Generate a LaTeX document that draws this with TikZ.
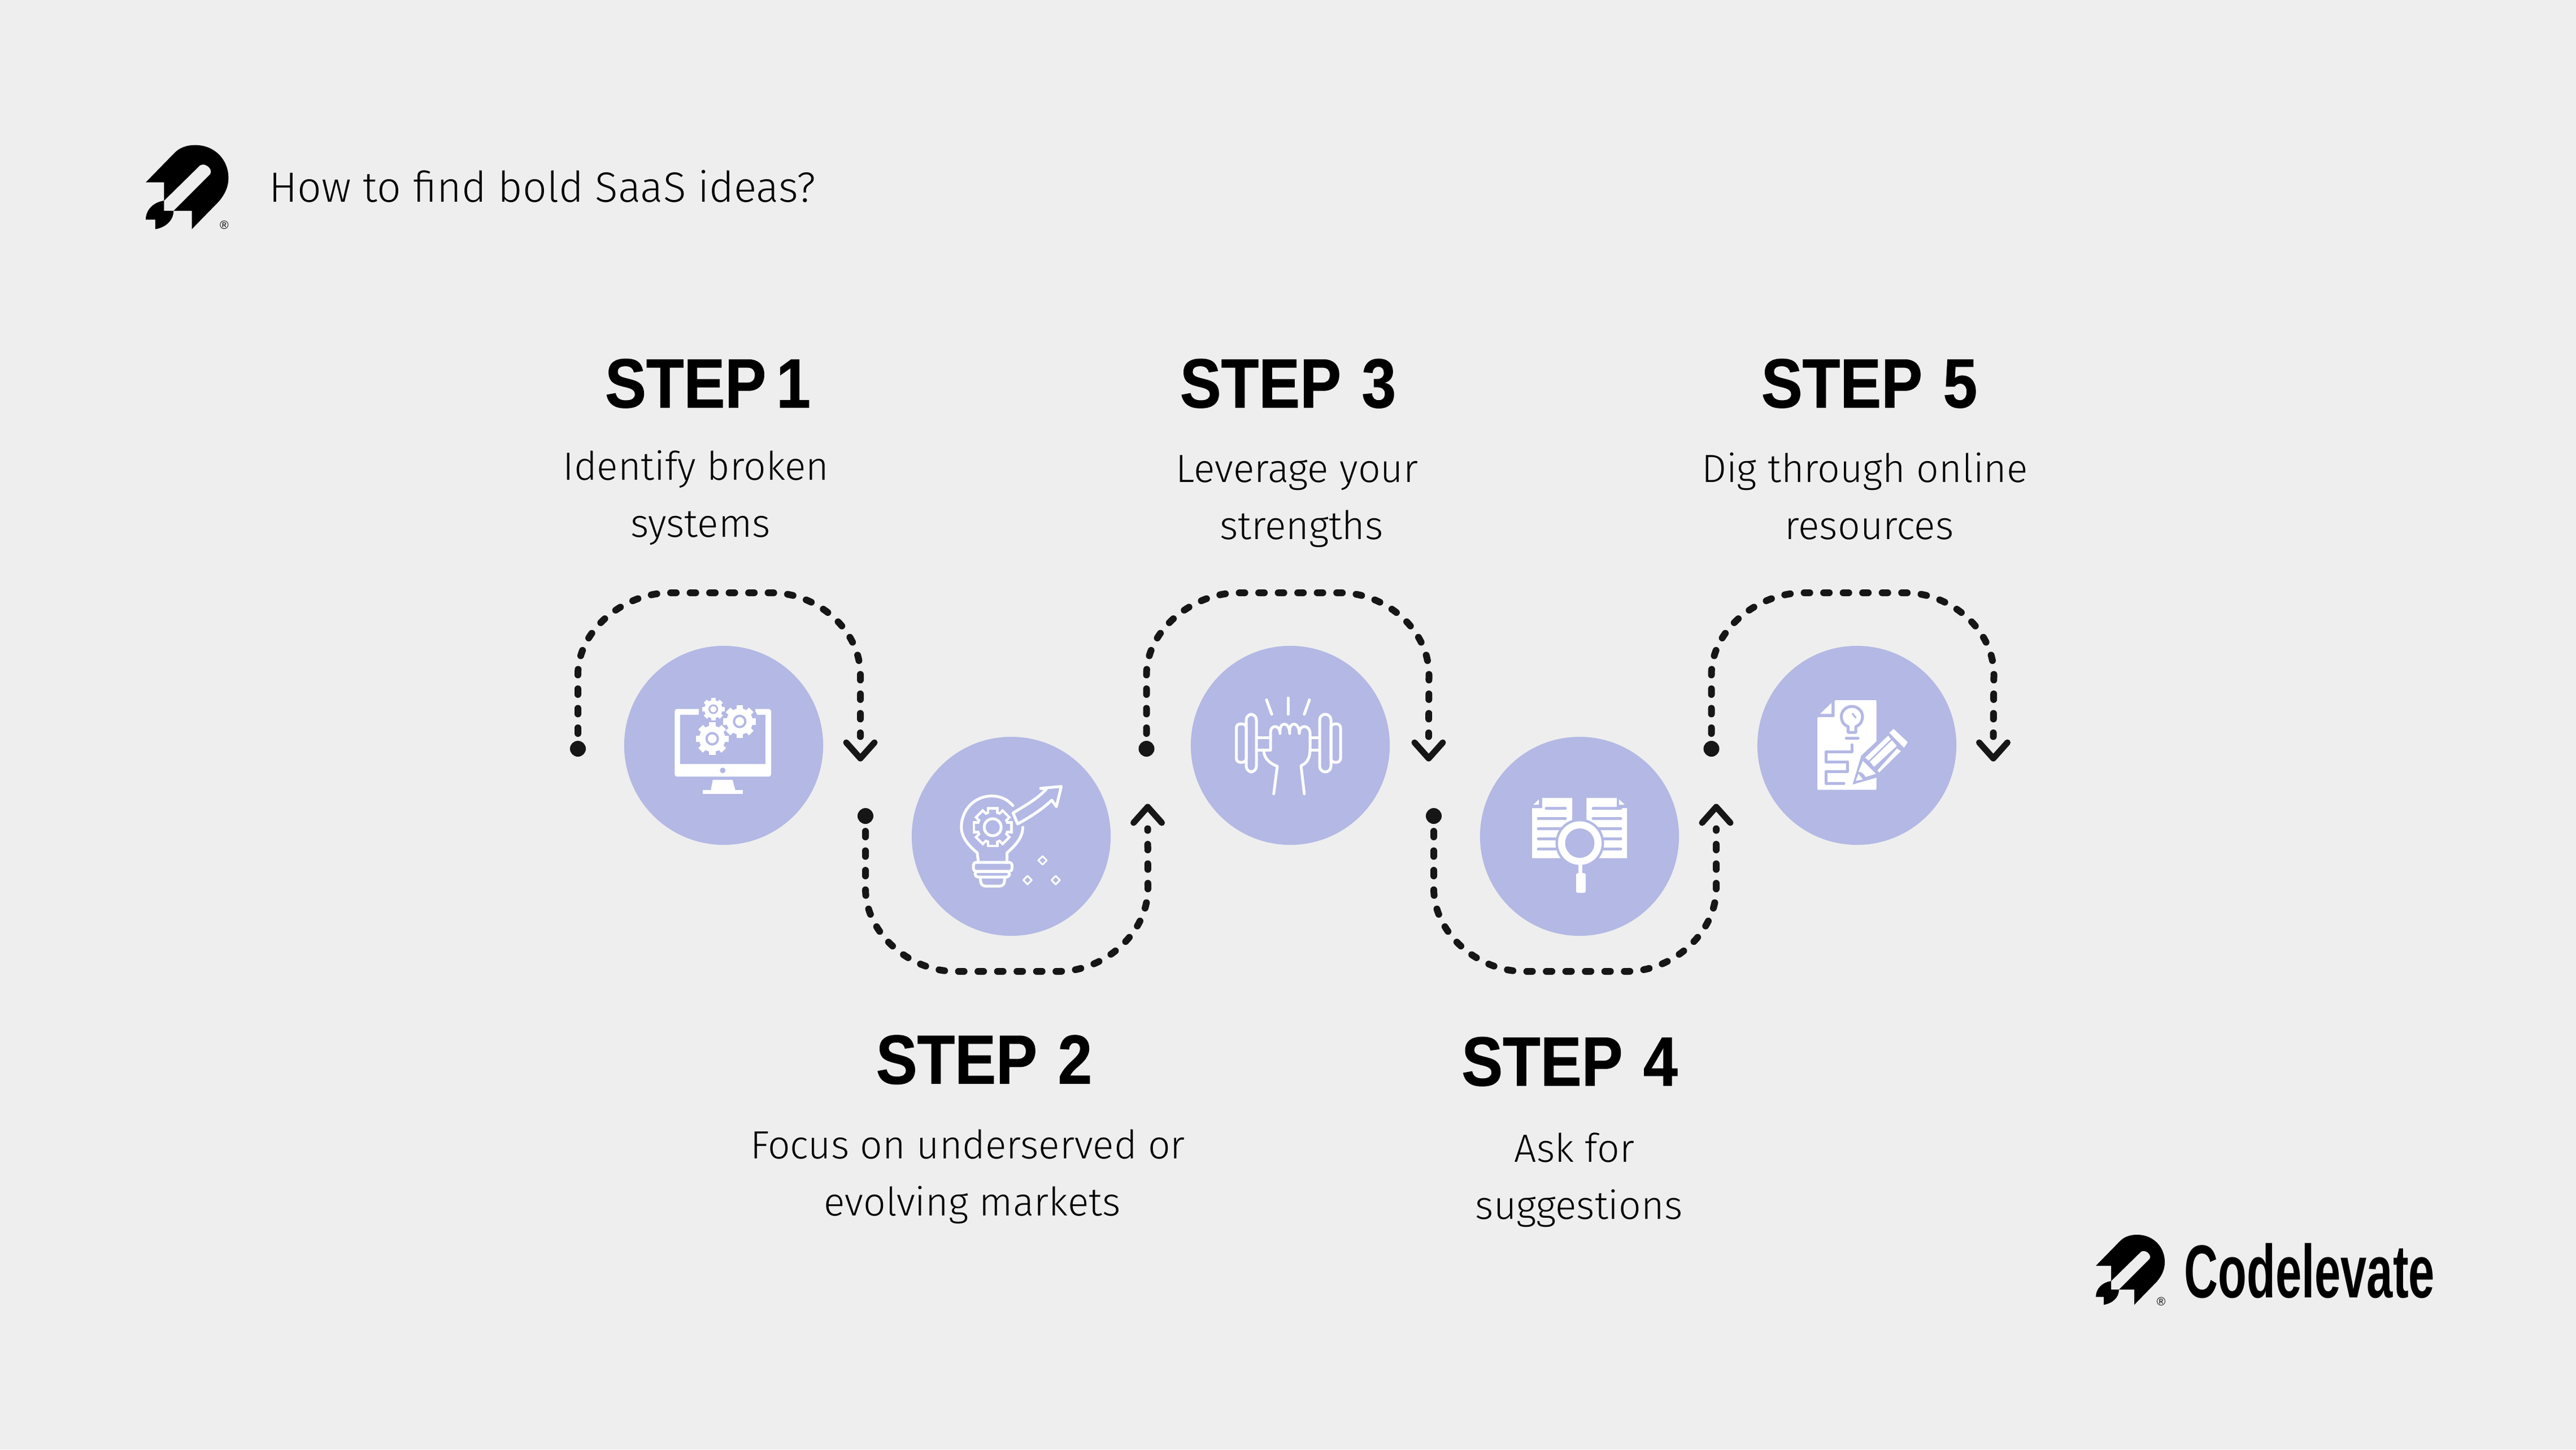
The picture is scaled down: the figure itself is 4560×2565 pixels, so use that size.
\documentclass[tikz,border=0pt]{standalone}
\usepackage{fontspec}
\usepackage{xcolor}
\usetikzlibrary{positioning}
\setmainfont{Liberation Sans}
\newfontfamily\bodyfont{Fira Sans Light}
\newfontfamily\stepfont[FakeStretch=0.887,FakeBold=0.8]{Liberation Sans Bold}
\newfontfamily\logofont[FakeStretch=0.625]{Liberation Sans}
\definecolor{pagebg}{HTML}{EEEEEE}
\definecolor{discfill}{HTML}{B3B8E4}
\definecolor{flowink}{HTML}{161616}
\tikzset{
	stepdisc/.style={circle, fill=discfill, minimum size=35.2mm, inner sep=0pt},
	flowdot/.style={circle, fill=flowink, minimum size=2.8mm, inner sep=0pt},
	flowline/.style={draw=flowink, line width=1.2mm, line cap=round, line join=round, dash pattern=on 1mm off 2.45mm, dash phase=0.75mm},
	flowtip/.style={draw=flowink, line width=1.1mm, line cap=round, line join=round},
	steptitle/.style={font=\stepfont\fontsize{35}{42}\selectfont, anchor=base, inner sep=0pt},
	stepdesc/.style={font=\bodyfont\fontsize{19.8}{28.7}\selectfont, align=center, anchor=base, inner sep=0pt},
	iconline/.style={draw=white, line width=0.5mm, line cap=round, line join=round},
	iconcut/.style={draw=discfill, line width=0.5mm, line cap=round, line join=round},
	pics/gearpic/.style={code={
		\foreach \a in {0,45,...,315} {\fill[#1, rotate=\a] (-.2,.72) rectangle (.2,1);}
		\fill[#1] (0,0) circle (.8);
	}},
	pics/gearoutline/.style={code={
		\foreach \a in {0,45,...,315} {\draw[white, line width=0.9mm, rotate=\a] (-.2,.72) rectangle (.2,1);}
		\draw[white, line width=0.9mm] (0,0) circle (.8);
		\foreach \a in {0,45,...,315} {\fill[discfill, rotate=\a] (-.2,.72) rectangle (.2,1);}
		\fill[discfill] (0,0) circle (.8);
	}}
}
\begin{document}
\begin{tikzpicture}[x=0.01cm, y=-0.01cm]
	\useasboundingbox (0,0) rectangle (4560,2565);
	\fill[pagebg] (0,0) rectangle (4560,2565);

	% header
	\node[anchor=base west, inner sep=0pt, font=\bodyfont\fontsize{21.3}{26}\selectfont] (heading) at (476,357) {How to find bold SaaS ideas?};
	\begin{scope}[shift={(258,256.7)}, scale=1.2]
		\fill[black] (0,55) -- (41,13) .. controls (49,4) and (60,0) .. (73,0) .. controls (102,0) and (122,22) .. (122,48) .. controls (122,62) and (117,72) .. (108,83) -- (68,124) -- (68,97) -- (41,97) -- (95,43) .. controls (100,36) and (88,25) .. (80,30) -- (27,82) -- (27,55) -- cycle;
		\fill[black] (27,82) .. controls (12,84) and (0,95) .. (0,110) -- (14,110) -- (14,124) .. controls (28,122) and (41,112) .. (41,97) -- (27,97) -- cycle;
	\end{scope}
	\node[inner sep=0pt, font=\fontsize{6}{7}\selectfont] (markA) at (397,398) {®};

	% discs
	\node[stepdisc] (disc1) at (1281,1319) {};
	\node[stepdisc] (disc2) at (1790,1480) {};
	\node[stepdisc] (disc3) at (2284,1319) {};
	\node[stepdisc] (disc4) at (2796,1480) {};
	\node[stepdisc] (disc5) at (3287,1319) {};

	% dotted paths
	\node[flowdot] (start1) at (1023,1325) {};
	\node[flowdot] (start2) at (1532,1444) {};
	\node[flowdot] (start3) at (2029.5,1325) {};
	\node[flowdot] (start4) at (2538,1444) {};
	\node[flowdot] (start5) at (3029.5,1325) {};
	\coordinate (end1) at (1523,1342);
	\coordinate (end2) at (2031.6,1428);
	\coordinate (end3) at (2529,1342);
	\coordinate (end4) at (3038,1428);
	\coordinate (end5) at (3528.5,1342);

	\draw[flowline] (start1.center) -- ++(0,-131) .. controls ++(0,-80) and ++(-80,0) .. ++(163,-145) -- ++(180,0) .. controls ++(80,0) and ++(0,-80) .. ++(157,145) -- ([yshift=0.385cm]end1);
	\draw[flowline] (start2.center) -- ++(0,128) .. controls ++(0,80) and ++(-80,0) .. ++(159,147) -- ++(183,0) .. controls ++(80,0) and ++(0,80) .. ++(158,-147) -- ([yshift=-0.385cm]end2);
	\draw[flowline] (start3.center) -- ++(0,-131) .. controls ++(0,-80) and ++(-80,0) .. ++(163,-145) -- ++(180,0) .. controls ++(80,0) and ++(0,-80) .. ++(157,145) -- ([yshift=0.385cm]end3);
	\draw[flowline] (start4.center) -- ++(0,128) .. controls ++(0,80) and ++(-80,0) .. ++(159,147) -- ++(183,0) .. controls ++(80,0) and ++(0,80) .. ++(158,-147) -- ([yshift=-0.385cm]end4);
	\draw[flowline] (start5.center) -- ++(0,-131) .. controls ++(0,-80) and ++(-80,0) .. ++(163,-145) -- ++(180,0) .. controls ++(80,0) and ++(0,-80) .. ++(157,145) -- ([yshift=0.385cm]end5);
	\draw[flowtip] ([shift={(-0.25cm,0.28cm)}]end1) -- (end1) -- ([shift={(0.25cm,0.28cm)}]end1);
	\draw[flowtip] ([shift={(-0.25cm,-0.28cm)}]end2) -- (end2) -- ([shift={(0.25cm,-0.28cm)}]end2);
	\draw[flowtip] ([shift={(-0.25cm,0.28cm)}]end3) -- (end3) -- ([shift={(0.25cm,0.28cm)}]end3);
	\draw[flowtip] ([shift={(-0.25cm,-0.28cm)}]end4) -- (end4) -- ([shift={(0.25cm,-0.28cm)}]end4);
	\draw[flowtip] ([shift={(-0.25cm,0.28cm)}]end5) -- (end5) -- ([shift={(0.25cm,0.28cm)}]end5);

	% labels
	\node[steptitle] (title1) at (1253,721) {STEP\kern-.1em\ 1};
	\node[steptitle] (title2) at (1742,1917.7) {STEP\kern.05em\ 2};
	\node[steptitle] (title3) at (2280,721) {STEP\kern.05em\ 3};
	\node[steptitle] (title4) at (2778.5,1921) {STEP\kern.05em\ 4};
	\node[steptitle] (title5) at (3309,721) {STEP\kern.05em\ 5};
	\node[stepdesc] (desc1) at (1232,950) {Identify broken\\\hspace*{1.6mm}systems};
	\node[stepdesc] (desc2) at (1713,2151.7) {Focus on underserved or\\\hspace*{1.6mm}evolving markets};
	\node[stepdesc] (desc3) at (2296,954.5) {Leverage your\\\hspace*{1.6mm}strengths};
	\node[stepdesc] (desc4) at (2787,2157) {Ask for\\\hspace*{1.6mm}suggestions};
	\node[stepdesc] (desc5) at (3301,954.5) {Dig through online\\\hspace*{1.6mm}resources};

	% icon: monitor with gears
	\fill[white, rounded corners=0.04cm] (1194.3,1254.7) rectangle (1365,1374.3);
	\fill[discfill] (1204.3,1265) rectangle (1355,1352.3);
	\fill[discfill] (1237,1250) rectangle (1337,1270);
	\fill[discfill] (1279.3,1363.3) circle (5);
	\fill[white] (1261.7,1380) -- (1296.7,1380) -- (1301.7,1398.3) -- (1258.3,1398.3) -- cycle;
	\fill[white] (1244.3,1398.3) rectangle (1315,1405);
	\fill[discfill] (1309.3,1276.7) circle (33);
	\fill[discfill] (1260.7,1307.3) circle (33);
	\fill[discfill] (1262.7,1255) circle (24);
	\pic[scale=29] at (1309.3,1276.7) {gearpic=white};
	\pic[scale=29] at (1260.7,1307.3) {gearpic=white};
	\pic[scale=20] at (1262.7,1255) {gearpic=white};
	\draw[iconcut, fill=white, line width=0.4mm] (1309.3,1276.7) circle (10);
	\draw[iconcut, fill=white, line width=0.4mm] (1260.7,1307.3) circle (10);
	\draw[iconcut, fill=white, line width=0.3mm] (1262.7,1255) circle (7);

	% icon: bulb with arrow
	\draw[iconline] (1793,1425.6) .. controls (1783,1414) and (1770,1408.6) .. (1755.8,1408.6) .. controls (1725,1408.6) and (1701.8,1433) .. (1701.8,1463.9) .. controls (1701.8,1482) and (1715,1497) .. (1729.8,1509) -- (1732,1526);
	\draw[iconline] (1810.5,1463.9) .. controls (1810.5,1482) and (1797,1497) .. (1782.5,1509) -- (1782.5,1526);
	\draw[iconline, rounded corners=0.05cm] (1723,1526) rectangle (1791.6,1542);
	\draw[iconline, rounded corners=0.05cm] (1726,1542) rectangle (1787,1552);
	\draw[iconline, rounded corners=0.07cm] (1735,1552) -- (1737,1568) -- (1777,1568) -- (1779,1552);
	\pic[scale=31] at (1757.2,1463.9) {gearoutline};
	\draw[iconline] (1757.2,1463.9) circle (15);
	\draw[iconline] (1793.3,1438.7) .. controls (1815,1425) and (1835,1415) .. (1852.6,1396) -- (1842,1395) -- (1878.6,1391.7) -- (1870,1427.5) -- (1861.8,1416) .. controls (1845,1432) and (1825,1445) .. (1801.4,1458) -- cycle;
	\draw[iconline, line width=0.3mm] (1845.6,1515) -- (1853,1522.5) -- (1845.6,1530) -- (1838,1522.5) -- cycle;
	\draw[iconline, line width=0.3mm] (1819,1550) -- (1826.5,1557.4) -- (1819,1565) -- (1811.5,1557.4) -- cycle;
	\draw[iconline, line width=0.3mm] (1868.8,1550) -- (1876.3,1557.4) -- (1868.8,1565) -- (1861.3,1557.4) -- cycle;

	% icon: fist with dumbbell
	\draw[iconline] (2242,1238.5) -- (2251.2,1264);
	\draw[iconline] (2280,1235) -- (2280,1264);
	\draw[iconline] (2317.9,1238.5) -- (2308.8,1264);
	\draw[iconline, rounded corners=0.1cm] (2206,1264) rectangle (2224,1366);
	\draw[iconline, rounded corners=0.07cm] (2188.5,1281) rectangle (2206,1349);
	\draw[iconline, rounded corners=0.1cm] (2336,1264) rectangle (2356,1366);
	\draw[iconline, rounded corners=0.07cm] (2356,1281) rectangle (2373,1349);
	\draw[iconline] (2224,1305) -- (2249,1305);
	\draw[iconline] (2224,1327) -- (2249,1327);
	\draw[iconline] (2319,1305) -- (2336,1305);
	\draw[iconline] (2319,1327) -- (2336,1327);
	\draw[iconline] (2249,1327) -- (2249,1296) .. controls (2249,1282) and (2266,1282) .. (2266,1298);
	\draw[iconline] (2266,1292) .. controls (2266,1277) and (2283,1277) .. (2283,1298);
	\draw[iconline] (2283,1292) .. controls (2283,1277) and (2300,1277) .. (2300,1298);
	\draw[iconline] (2300,1296) .. controls (2300,1282) and (2319,1282) .. (2319,1298) -- (2319,1325) .. controls (2319,1340) and (2315,1350) .. (2303,1355) -- (2308.8,1404.8);
	\draw[iconline] (2254.7,1404.8) -- (2261,1356) .. controls (2245,1350) and (2237,1340) .. (2237,1327);

	% icon: documents with magnifier
	\fill[white] (2730,1412) -- (2783,1412) -- (2783,1518.7) -- (2712,1518.7) -- (2712,1430) -- (2730,1430) -- cycle;
	\fill[white] (2808.4,1412) -- (2861.8,1412) -- (2861.8,1430) -- (2880,1430) -- (2880,1518.7) -- (2808.4,1518.7) -- cycle;
	\fill[white] (2724,1414.5) -- (2724,1424) -- (2714.4,1424) -- cycle;
	\fill[white] (2866,1414.5) -- (2866,1424) -- (2876,1424) -- cycle;
	\draw[iconcut] (2737,1430.5) -- (2771,1430.5);
	\draw[iconcut] (2723,1448.5) -- (2771,1448.5);
	\draw[iconcut] (2723,1466.5) -- (2771,1466.5);
	\draw[iconcut] (2723,1484.5) -- (2771,1484.5);
	\draw[iconcut] (2723,1502.5) -- (2771,1502.5);
	\draw[iconcut] (2820,1430.5) -- (2869,1430.5);
	\draw[iconcut] (2820,1448.5) -- (2869,1448.5);
	\draw[iconcut] (2820,1466.5) -- (2869,1466.5);
	\draw[iconcut] (2820,1484.5) -- (2869,1484.5);
	\draw[iconcut] (2820,1502.5) -- (2869,1502.5);
	\fill[discfill] (2796.5,1492) circle (43);
	\fill[white] (2796.5,1492) circle (38.6);
	\fill[discfill] (2796.5,1492) circle (26);
	\fill[white] (2794,1528) rectangle (2801,1546);
	\fill[white, rounded corners=0.03cm] (2790,1545) rectangle (2807,1580);

	% icon: sheet with pencil
	\fill[white, rounded corners=0.02cm] (3247.6,1239) -- (3321.5,1239) -- (3321.5,1397.7) -- (3217,1397.7) -- (3217,1269) -- (3247.6,1269) -- cycle;
	\fill[white] (3242,1244) -- (3242,1263.3) -- (3222,1263.3) -- cycle;
	\draw[iconcut] (3271.7,1286) .. controls (3262,1282) and (3259.5,1275) .. (3259.5,1268) .. controls (3259.5,1258) and (3268,1250) .. (3278.2,1250) .. controls (3288,1250) and (3297,1258) .. (3297,1268) .. controls (3297,1275) and (3294,1282) .. (3285,1286) -- (3285,1296) -- (3271.7,1296) -- cycle;
	\draw[iconcut, line width=0.3mm] (3279.4,1263) -- (3285,1270);
	\draw[iconcut] (3268,1306) -- (3289,1306);
	\draw[iconcut] (3278,1318) -- (3278,1330) -- (3232,1330) -- (3232,1348) -- (3270,1348) -- (3270,1365) -- (3232,1365) -- (3232,1386) -- (3264,1386);
	\fill[discfill] (3322,1311.7) -- (3294.7,1337.3) -- (3279.4,1388.3) -- (3322,1376) -- cycle;
	\fill[white] (3344.4,1296.7) -- (3352,1290) -- (3377,1313.3) -- (3370.4,1323.3) -- cycle;
	\fill[white] (3342.5,1301.7) -- (3301.6,1340.7) -- (3308,1346) -- (3347,1308) -- cycle;
	\fill[white] (3349,1310) -- (3310,1348) -- (3317.5,1357) -- (3357.6,1320) -- cycle;
	\fill[white] (3358,1324.5) -- (3323.4,1363.3) -- (3326.5,1367) -- (3365,1329) -- cycle;
	\fill[white] (3297.7,1346.7) -- (3320.7,1369.3) -- (3302.3,1375) .. controls (3300,1370) and (3296,1366) .. (3289.7,1365.7) -- cycle;
	\fill[white] (3285,1381.7) -- (3289.7,1369.3) -- (3297.4,1379.3) -- cycle;

	% footer
	\begin{scope}[shift={(3710,2185)}]
		\fill[black] (0,55) -- (41,13) .. controls (49,4) and (60,0) .. (73,0) .. controls (102,0) and (122,22) .. (122,48) .. controls (122,62) and (117,72) .. (108,83) -- (68,124) -- (68,97) -- (41,97) -- (95,43) .. controls (100,36) and (88,25) .. (80,30) -- (27,82) -- (27,55) -- cycle;
		\fill[black] (27,82) .. controls (12,84) and (0,95) .. (0,110) -- (14,110) -- (14,124) .. controls (28,122) and (41,112) .. (41,97) -- (27,97) -- cycle;
	\end{scope}
	\node[inner sep=0pt, font=\fontsize{6}{7}\selectfont] (markB) at (3825.6,2302.7) {®};
	\node[anchor=base west, inner sep=0pt, font=\logofont\bfseries\fontsize{37.8}{44}\selectfont] (brand) at (3866,2296.7) {Codelevate};
\end{tikzpicture}
\end{document}
